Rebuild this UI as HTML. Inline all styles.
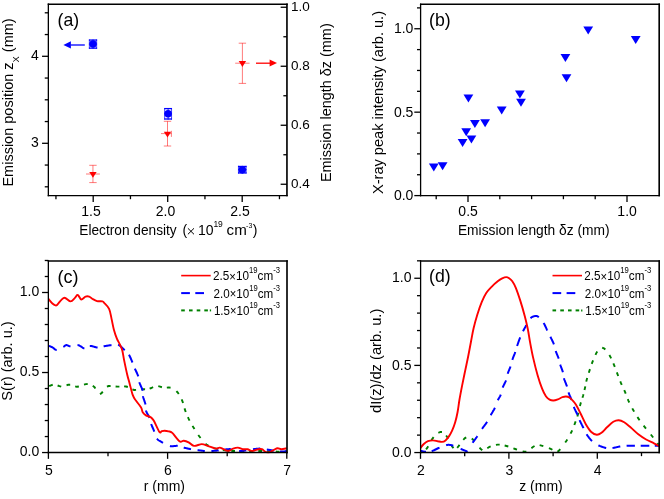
<!DOCTYPE html>
<html><head><meta charset="utf-8"><title>figure</title>
<style>
html,body{margin:0;padding:0;background:#fff;}
body{width:664px;height:499px;overflow:hidden;}
svg{display:block;font-family:"Liberation Sans", sans-serif;will-change:transform;}
</style></head>
<body>
<svg width="664" height="499" viewBox="0 0 664 499">
<rect width="664" height="499" fill="#fff"/>
<line x1="48.35" y1="3.53" x2="48.35" y2="196.32" stroke="#000" stroke-width="1.3" />
<line x1="286.95" y1="3.53" x2="286.95" y2="196.32" stroke="#000" stroke-width="1.65" />
<line x1="47.70" y1="4.20" x2="287.77" y2="4.20" stroke="#000" stroke-width="1.35" />
<line x1="47.70" y1="195.60" x2="287.77" y2="195.60" stroke="#000" stroke-width="1.45" />
<line x1="44.75" y1="12.80" x2="48.35" y2="12.80" stroke="#000" stroke-width="1.3" />
<line x1="44.75" y1="34.55" x2="48.35" y2="34.55" stroke="#000" stroke-width="1.3" />
<line x1="42.05" y1="56.30" x2="48.35" y2="56.30" stroke="#000" stroke-width="1.3" />
<text x="38.85" y="59.80" font-size="14" text-anchor="end" fill="#000" >4</text>
<line x1="44.75" y1="78.05" x2="48.35" y2="78.05" stroke="#000" stroke-width="1.3" />
<line x1="44.75" y1="99.80" x2="48.35" y2="99.80" stroke="#000" stroke-width="1.3" />
<line x1="44.75" y1="121.55" x2="48.35" y2="121.55" stroke="#000" stroke-width="1.3" />
<line x1="42.05" y1="143.30" x2="48.35" y2="143.30" stroke="#000" stroke-width="1.3" />
<text x="38.85" y="146.80" font-size="14" text-anchor="end" fill="#000" >3</text>
<line x1="44.75" y1="165.05" x2="48.35" y2="165.05" stroke="#000" stroke-width="1.3" />
<line x1="44.75" y1="186.80" x2="48.35" y2="186.80" stroke="#000" stroke-width="1.3" />
<line x1="55.95" y1="195.60" x2="55.95" y2="199.20" stroke="#000" stroke-width="1.3" />
<line x1="93.20" y1="195.60" x2="93.20" y2="201.90" stroke="#000" stroke-width="1.3" />
<text x="91.00" y="216.00" font-size="14" text-anchor="middle" fill="#000" >1.5</text>
<line x1="130.45" y1="195.60" x2="130.45" y2="199.20" stroke="#000" stroke-width="1.3" />
<line x1="167.70" y1="195.60" x2="167.70" y2="201.90" stroke="#000" stroke-width="1.3" />
<text x="165.50" y="216.00" font-size="14" text-anchor="middle" fill="#000" >2.0</text>
<line x1="204.95" y1="195.60" x2="204.95" y2="199.20" stroke="#000" stroke-width="1.3" />
<line x1="242.20" y1="195.60" x2="242.20" y2="201.90" stroke="#000" stroke-width="1.3" />
<text x="240.00" y="216.00" font-size="14" text-anchor="middle" fill="#000" >2.5</text>
<line x1="279.45" y1="195.60" x2="279.45" y2="199.20" stroke="#000" stroke-width="1.3" />
<line x1="280.65" y1="7.25" x2="286.95" y2="7.25" stroke="#000" stroke-width="1.3" />
<text x="291.00" y="10.75" font-size="13.5" text-anchor="start" fill="#000" >1.0</text>
<line x1="283.35" y1="36.75" x2="286.95" y2="36.75" stroke="#000" stroke-width="1.3" />
<line x1="280.65" y1="66.25" x2="286.95" y2="66.25" stroke="#000" stroke-width="1.3" />
<text x="291.00" y="69.75" font-size="13.5" text-anchor="start" fill="#000" >0.8</text>
<line x1="283.35" y1="95.75" x2="286.95" y2="95.75" stroke="#000" stroke-width="1.3" />
<line x1="280.65" y1="125.25" x2="286.95" y2="125.25" stroke="#000" stroke-width="1.3" />
<text x="291.00" y="128.75" font-size="13.5" text-anchor="start" fill="#000" >0.6</text>
<line x1="283.35" y1="154.75" x2="286.95" y2="154.75" stroke="#000" stroke-width="1.3" />
<line x1="280.65" y1="184.25" x2="286.95" y2="184.25" stroke="#000" stroke-width="1.3" />
<text x="291.00" y="187.75" font-size="13.5" text-anchor="start" fill="#000" >0.4</text>
<text x="57.60" y="25.80" font-size="18.5" text-anchor="start" fill="#000" textLength="21.60" lengthAdjust="spacingAndGlyphs" >(a)</text>
<line x1="187.90" y1="228.30" x2="194.00" y2="234.30" stroke="#000" stroke-width="1.0" />
<line x1="187.90" y1="234.30" x2="194.00" y2="228.30" stroke="#000" stroke-width="1.0" />
<text x="79.30" y="234.50" font-size="14" text-anchor="start" fill="#000" textLength="97.40" lengthAdjust="spacingAndGlyphs" >Electron density</text>
<text x="182.40" y="234.50" font-size="14" text-anchor="start" fill="#000" >(</text>
<text x="198.00" y="234.50" font-size="14" text-anchor="start" fill="#000" >10</text>
<text x="213.40" y="227.30" font-size="8.5" text-anchor="start" fill="#000" >19</text>
<text x="226.60" y="234.50" font-size="14" text-anchor="start" fill="#000" textLength="20.20" lengthAdjust="spacingAndGlyphs" >cm</text>
<text x="246.10" y="227.70" font-size="8" text-anchor="start" fill="#000" textLength="6.20" lengthAdjust="spacingAndGlyphs" >-3</text>
<text x="252.70" y="234.50" font-size="14" text-anchor="start" fill="#000" >)</text>
<text transform="translate(13.0 186.6) rotate(-90)" font-size="14" fill="#000" textLength="168.3" lengthAdjust="spacingAndGlyphs">Emission position z<tspan font-size="9" dy="6">X</tspan><tspan dy="-6"> (mm)</tspan></text>
<text transform="translate(330.7 182.1) rotate(-90)" font-size="14" fill="#000" textLength="158.8" lengthAdjust="spacingAndGlyphs">Emission length δz (mm)</text>
<line x1="88.90" y1="40.05" x2="97.10" y2="40.05" stroke="#0000ff" stroke-width="1.3" />
<line x1="88.90" y1="48.15" x2="97.10" y2="48.15" stroke="#0000ff" stroke-width="1.3" />
<line x1="89.35" y1="39.45" x2="89.35" y2="48.75" stroke="#0000ff" stroke-width="0.9" stroke-opacity="0.8"/>
<line x1="96.65" y1="39.45" x2="96.65" y2="48.75" stroke="#0000ff" stroke-width="0.9" stroke-opacity="0.8"/>
<line x1="88.90" y1="44.10" x2="97.10" y2="44.10" stroke="#0000ff" stroke-width="0.9" />
<line x1="93.00" y1="39.45" x2="93.00" y2="48.75" stroke="#0000ff" stroke-width="0.9" />
<circle cx="93.0" cy="44.1" r="3.75" fill="#0000ff"/>
<line x1="164.20" y1="108.60" x2="172.00" y2="108.60" stroke="#0000ff" stroke-width="1.3" />
<line x1="164.20" y1="119.00" x2="172.00" y2="119.00" stroke="#0000ff" stroke-width="1.3" />
<line x1="164.65" y1="108.00" x2="164.65" y2="119.60" stroke="#0000ff" stroke-width="0.9" stroke-opacity="0.8"/>
<line x1="171.55" y1="108.00" x2="171.55" y2="119.60" stroke="#0000ff" stroke-width="0.9" stroke-opacity="0.8"/>
<line x1="164.20" y1="113.80" x2="172.00" y2="113.80" stroke="#0000ff" stroke-width="0.9" />
<line x1="168.10" y1="108.00" x2="168.10" y2="119.60" stroke="#0000ff" stroke-width="0.9" />
<circle cx="168.1" cy="113.8" r="3.75" fill="#0000ff"/>
<line x1="238.00" y1="166.45" x2="246.60" y2="166.45" stroke="#0000ff" stroke-width="1.3" />
<line x1="238.00" y1="172.95" x2="246.60" y2="172.95" stroke="#0000ff" stroke-width="1.3" />
<line x1="238.45" y1="165.85" x2="238.45" y2="173.55" stroke="#0000ff" stroke-width="0.9" stroke-opacity="0.8"/>
<line x1="246.15" y1="165.85" x2="246.15" y2="173.55" stroke="#0000ff" stroke-width="0.9" stroke-opacity="0.8"/>
<line x1="238.00" y1="169.70" x2="246.60" y2="169.70" stroke="#0000ff" stroke-width="0.9" />
<line x1="242.30" y1="165.85" x2="242.30" y2="173.55" stroke="#0000ff" stroke-width="0.9" />
<circle cx="242.3" cy="169.7" r="3.75" fill="#0000ff"/>
<line x1="92.95" y1="165.30" x2="92.95" y2="182.60" stroke="#ff0000" stroke-width="0.85" stroke-opacity="0.62"/>
<line x1="89.25" y1="165.30" x2="96.65" y2="165.30" stroke="#ff0000" stroke-width="0.85" stroke-opacity="0.62"/>
<line x1="89.25" y1="182.60" x2="96.65" y2="182.60" stroke="#ff0000" stroke-width="0.85" stroke-opacity="0.62"/>
<line x1="86.00" y1="174.00" x2="99.90" y2="174.00" stroke="#ff0000" stroke-width="0.85" stroke-opacity="0.62"/>
<polygon points="89.25,171.90 96.65,171.90 92.95,177.80" fill="#ff0000"/>
<line x1="167.50" y1="121.30" x2="167.50" y2="146.00" stroke="#ff0000" stroke-width="0.85" stroke-opacity="0.62"/>
<line x1="163.80" y1="121.30" x2="171.20" y2="121.30" stroke="#ff0000" stroke-width="0.85" stroke-opacity="0.62"/>
<line x1="163.80" y1="146.00" x2="171.20" y2="146.00" stroke="#ff0000" stroke-width="0.85" stroke-opacity="0.62"/>
<line x1="161.00" y1="133.60" x2="171.40" y2="133.60" stroke="#ff0000" stroke-width="0.85" stroke-opacity="0.62"/>
<line x1="171.40" y1="130.80" x2="171.40" y2="136.90" stroke="#ff0000" stroke-width="0.85" stroke-opacity="0.62"/>
<polygon points="163.80,131.80 171.20,131.80 167.50,137.60" fill="#ff0000"/>
<line x1="242.40" y1="43.20" x2="242.40" y2="83.40" stroke="#ff0000" stroke-width="0.85" stroke-opacity="0.62"/>
<line x1="238.70" y1="43.20" x2="246.10" y2="43.20" stroke="#ff0000" stroke-width="0.85" stroke-opacity="0.62"/>
<line x1="238.70" y1="83.40" x2="246.10" y2="83.40" stroke="#ff0000" stroke-width="0.85" stroke-opacity="0.62"/>
<line x1="235.20" y1="63.20" x2="249.60" y2="63.20" stroke="#ff0000" stroke-width="0.85" stroke-opacity="0.62"/>
<polygon points="238.70,61.10 246.10,61.10 242.40,67.10" fill="#ff0000"/>
<line x1="70.50" y1="45.00" x2="84.80" y2="45.00" stroke="#0000ff" stroke-width="1.3" />
<polygon points="63.4,45.0 70.9,41.3 70.9,48.6" fill="#0000ff"/>
<line x1="256.00" y1="63.20" x2="270.00" y2="63.20" stroke="#ff0000" stroke-width="1.3" />
<polygon points="277,63.1 269.6,59.5 269.6,66.6" fill="#ff0000"/>
<line x1="420.60" y1="3.53" x2="420.60" y2="196.32" stroke="#000" stroke-width="1.3" />
<line x1="659.20" y1="3.53" x2="659.20" y2="196.32" stroke="#000" stroke-width="1.65" />
<line x1="419.95" y1="4.20" x2="660.03" y2="4.20" stroke="#000" stroke-width="1.35" />
<line x1="419.95" y1="195.60" x2="660.03" y2="195.60" stroke="#000" stroke-width="1.45" />
<line x1="414.30" y1="195.60" x2="420.60" y2="195.60" stroke="#000" stroke-width="1.3" />
<text x="413.40" y="200.20" font-size="14" text-anchor="end" fill="#000" >0.0</text>
<line x1="417.00" y1="174.74" x2="420.60" y2="174.74" stroke="#000" stroke-width="1.3" />
<line x1="417.00" y1="153.89" x2="420.60" y2="153.89" stroke="#000" stroke-width="1.3" />
<line x1="417.00" y1="133.03" x2="420.60" y2="133.03" stroke="#000" stroke-width="1.3" />
<line x1="414.30" y1="112.17" x2="420.60" y2="112.17" stroke="#000" stroke-width="1.3" />
<text x="413.40" y="116.77" font-size="14" text-anchor="end" fill="#000" >0.5</text>
<line x1="417.00" y1="91.32" x2="420.60" y2="91.32" stroke="#000" stroke-width="1.3" />
<line x1="417.00" y1="70.46" x2="420.60" y2="70.46" stroke="#000" stroke-width="1.3" />
<line x1="417.00" y1="49.61" x2="420.60" y2="49.61" stroke="#000" stroke-width="1.3" />
<line x1="414.30" y1="28.75" x2="420.60" y2="28.75" stroke="#000" stroke-width="1.3" />
<text x="413.40" y="33.35" font-size="14" text-anchor="end" fill="#000" >1.0</text>
<line x1="417.00" y1="7.89" x2="420.60" y2="7.89" stroke="#000" stroke-width="1.3" />
<line x1="436.20" y1="195.60" x2="436.20" y2="199.20" stroke="#000" stroke-width="1.3" />
<line x1="468.00" y1="195.60" x2="468.00" y2="201.90" stroke="#000" stroke-width="1.3" />
<text x="468.10" y="216.00" font-size="14" text-anchor="middle" fill="#000" >0.5</text>
<line x1="499.80" y1="195.60" x2="499.80" y2="199.20" stroke="#000" stroke-width="1.3" />
<line x1="531.60" y1="195.60" x2="531.60" y2="199.20" stroke="#000" stroke-width="1.3" />
<line x1="563.40" y1="195.60" x2="563.40" y2="199.20" stroke="#000" stroke-width="1.3" />
<line x1="595.20" y1="195.60" x2="595.20" y2="199.20" stroke="#000" stroke-width="1.3" />
<line x1="627.00" y1="195.60" x2="627.00" y2="201.90" stroke="#000" stroke-width="1.3" />
<text x="627.10" y="216.00" font-size="14" text-anchor="middle" fill="#000" >1.0</text>
<text x="429.00" y="25.90" font-size="18.5" text-anchor="start" fill="#000" textLength="21.60" lengthAdjust="spacingAndGlyphs" >(b)</text>
<text transform="translate(383.0 194.0) rotate(-90)" font-size="14" fill="#000" textLength="183" lengthAdjust="spacingAndGlyphs">X-ray peak intensity (arb. u.)</text>
<text x="457.90" y="234.60" font-size="14" text-anchor="start" fill="#000" textLength="151.80" lengthAdjust="spacingAndGlyphs" >Emission length δz (mm)</text>
<polygon points="583.30,26.50 593.10,26.50 588.20,34.50" fill="#0000ff"/>
<polygon points="630.80,35.90 640.60,35.90 635.70,43.90" fill="#0000ff"/>
<polygon points="560.50,54.00 570.30,54.00 565.40,62.00" fill="#0000ff"/>
<polygon points="561.60,74.30 571.40,74.30 566.50,82.30" fill="#0000ff"/>
<polygon points="463.50,94.60 473.30,94.60 468.40,102.60" fill="#0000ff"/>
<polygon points="515.00,90.60 524.80,90.60 519.90,98.60" fill="#0000ff"/>
<polygon points="516.10,98.70 525.90,98.70 521.00,106.70" fill="#0000ff"/>
<polygon points="496.80,106.50 506.60,106.50 501.70,114.50" fill="#0000ff"/>
<polygon points="480.20,119.20 490.00,119.20 485.10,127.20" fill="#0000ff"/>
<polygon points="470.00,120.10 479.80,120.10 474.90,128.10" fill="#0000ff"/>
<polygon points="461.30,128.20 471.10,128.20 466.20,136.20" fill="#0000ff"/>
<polygon points="466.50,135.50 476.30,135.50 471.40,143.50" fill="#0000ff"/>
<polygon points="457.70,139.00 467.50,139.00 462.60,147.00" fill="#0000ff"/>
<polygon points="437.70,162.20 447.50,162.20 442.60,170.20" fill="#0000ff"/>
<polygon points="428.90,163.50 438.70,163.50 433.80,171.50" fill="#0000ff"/>
<clipPath id="clipc"><rect x="48.35" y="261.0" width="238.65" height="192.55"/></clipPath>
<path d="M49.19,386.12 L50.90,385.30 L52.73,384.79 M57.63,385.51 L59.40,386.20 L61.24,386.69 M66.54,385.40 L68.30,384.70 L70.19,384.68 M75.18,386.30 L77.00,386.80 L78.87,386.52 M83.98,384.62 L85.80,384.10 L87.70,384.04 M92.79,385.75 L94.30,386.90 L95.39,388.45 M99.98,394.12 L101.60,393.20 L102.76,391.70 M106.93,386.65 L108.70,386.00 L110.60,385.94 M115.61,386.47 L117.50,386.60 L119.40,386.59 M124.10,386.40 L126.00,386.50 L127.83,387.00 M132.41,389.38 L134.20,390.00 L136.09,389.85 M141.30,389.24 L143.20,389.20 L145.10,389.30 M149.64,388.70 L151.40,388.00 L153.11,387.17 M158.27,386.20 L160.10,386.70 L161.92,387.25 M166.82,387.59 L168.70,387.40 L170.56,387.76 M176.43,391.09 L177.70,392.50 L178.77,394.07 M181.63,399.46 L182.40,401.20 L183.05,402.98 M184.53,408.39 L185.10,410.20 L185.75,411.98 M187.89,417.18 L188.70,418.90 L189.55,420.60 M192.52,425.87 L193.50,427.50 L194.49,429.12 M198.27,434.97 L199.40,436.50 L200.55,438.01 M205.44,443.69 L206.90,444.90 L208.51,445.91 M214.18,448.06 L216.00,448.60 L217.83,449.12 M222.82,450.12 L224.70,450.40 L226.59,450.62 M231.20,450.92 L233.10,451.00 L235.00,451.07 M240.20,451.18 L242.10,451.20 L244.00,451.22 M249.20,451.22 L251.10,451.20 L253.00,451.16 M258.30,451.01 L260.20,451.00 L262.10,451.03 M267.10,451.23 L269.00,451.30 L270.90,451.37 M275.80,451.57 L277.70,451.60 L279.60,451.59 M284.80,451.46 L286.70,451.40 L286.70,451.40" fill="none" stroke="#008000" stroke-width="1.9" stroke-linejoin="round" clip-path="url(#clipc)"/>
<path d="M48.40,345.70 L48.54,345.76 L48.72,345.83 L48.91,345.90 L49.13,345.99 L49.38,346.08 L49.63,346.18 L49.90,346.28 L50.19,346.39 L50.48,346.51 L50.77,346.63 L51.07,346.75 L51.37,346.88 L51.67,347.01 L51.95,347.14 L52.23,347.27 L52.50,347.40 L52.76,347.54 L53.00,347.71 L53.25,347.90 L53.49,348.10 L53.72,348.31 L53.96,348.52 L54.20,348.73 L54.44,348.94 L54.69,349.14 L54.94,349.33 L55.21,349.50 L55.48,349.64 L55.76,349.76 L56.06,349.85 L56.37,349.89 L56.70,349.90 M63.30,346.90 L63.58,346.75 L63.84,346.60 L64.07,346.45 L64.27,346.30 L64.46,346.15 L64.64,346.01 L64.80,345.87 L64.95,345.74 L65.10,345.62 L65.25,345.50 L65.39,345.40 L65.55,345.31 L65.71,345.23 L65.89,345.17 L66.09,345.13 L66.30,345.10 L66.52,345.10 L66.75,345.12 L66.97,345.17 L67.20,345.25 L67.43,345.33 L67.66,345.44 L67.90,345.55 L68.15,345.66 L68.40,345.78 L68.67,345.89 L68.94,346.00 L69.22,346.10 L69.52,346.18 L69.83,346.24 L70.16,346.29 L70.50,346.30 M77.50,345.10 L77.82,345.12 L78.11,345.15 L78.37,345.20 L78.62,345.26 L78.86,345.33 L79.07,345.42 L79.28,345.51 L79.48,345.61 L79.66,345.72 L79.85,345.83 L80.03,345.95 L80.21,346.06 L80.40,346.18 L80.59,346.29 L80.79,346.40 L81.00,346.50 L81.21,346.61 L81.42,346.73 L81.62,346.87 L81.81,347.02 L82.00,347.17 L82.19,347.33 L82.39,347.49 L82.58,347.64 L82.78,347.78 L82.98,347.92 L83.19,348.03 L83.41,348.14 L83.64,348.22 L83.88,348.27 L84.13,348.30 L84.40,348.30 M89.80,345.90 L90.22,345.90 L90.67,345.93 L91.14,345.99 L91.62,346.08 L92.12,346.20 L92.63,346.33 L93.14,346.47 L93.66,346.62 L94.18,346.78 L94.70,346.93 L95.21,347.07 L95.72,347.20 L96.21,347.32 L96.69,347.41 L97.16,347.47 L97.60,347.50 M103.60,346.30 L104.04,346.22 L104.51,346.14 L104.98,346.06 L105.47,345.98 L105.97,345.90 L106.48,345.81 L106.99,345.73 L107.51,345.65 L108.03,345.57 L108.55,345.49 L109.06,345.42 L109.57,345.34 L110.07,345.28 L110.56,345.21 L111.04,345.15 L111.50,345.10 M118.10,344.70 L118.52,344.88 L118.94,345.11 L119.37,345.38 L119.81,345.68 L120.24,346.02 L120.68,346.37 L121.12,346.75 L121.55,347.14 L121.98,347.55 L122.40,347.95 L122.81,348.36 L123.22,348.76 L123.61,349.15 L123.99,349.52 L124.35,349.87 L124.70,350.20 M128.90,354.70 L129.14,355.10 L129.39,355.53 L129.63,355.98 L129.87,356.46 L130.11,356.95 L130.35,357.46 L130.58,357.98 L130.81,358.50 L131.04,359.03 L131.26,359.55 L131.48,360.08 L131.70,360.59 L131.91,361.10 L132.11,361.58 L132.31,362.05 L132.50,362.50 M134.90,368.60 L135.09,369.04 L135.29,369.51 L135.51,369.99 L135.74,370.48 L135.97,370.98 L136.21,371.49 L136.45,372.00 L136.69,372.52 L136.92,373.03 L137.16,373.55 L137.38,374.05 L137.60,374.55 L137.80,375.04 L137.98,375.51 L138.15,375.96 L138.30,376.40 M139.30,382.20 L139.45,382.66 L139.63,383.15 L139.83,383.67 L140.06,384.21 L140.29,384.76 L140.54,385.33 L140.79,385.90 L141.05,386.47 L141.30,387.05 L141.55,387.62 L141.79,388.18 L142.02,388.73 L142.23,389.26 L142.41,389.77 L142.57,390.25 L142.70,390.70 M142.90,396.10 L143.00,396.55 L143.13,397.02 L143.27,397.52 L143.43,398.05 L143.61,398.58 L143.80,399.14 L143.99,399.70 L144.19,400.26 L144.39,400.83 L144.58,401.39 L144.77,401.95 L144.95,402.50 L145.11,403.03 L145.26,403.54 L145.39,404.04 L145.50,404.50 M145.90,410.50 L146.04,410.92 L146.21,411.36 L146.40,411.80 L146.62,412.26 L146.85,412.72 L147.10,413.19 L147.36,413.66 L147.62,414.14 L147.88,414.61 L148.15,415.09 L148.41,415.56 L148.66,416.02 L148.90,416.48 L149.12,416.93 L149.32,417.37 L149.50,417.80 M151.20,424.00 L151.36,424.44 L151.52,424.89 L151.70,425.35 L151.89,425.81 L152.08,426.29 L152.28,426.77 L152.48,427.26 L152.69,427.74 L152.90,428.23 L153.11,428.73 L153.31,429.21 L153.52,429.70 L153.72,430.19 L153.92,430.66 L154.11,431.14 L154.30,431.60 M157.00,438.70 L157.28,439.04 L157.59,439.36 L157.91,439.67 L158.25,439.95 L158.60,440.23 L158.97,440.49 L159.35,440.74 L159.74,440.99 L160.14,441.22 L160.54,441.45 L160.95,441.68 L161.36,441.90 L161.77,442.12 L162.18,442.35 L162.59,442.57 L163.00,442.80 M169.90,446.10 L170.37,446.18 L170.84,446.23 L171.33,446.25 L171.83,446.25 L172.33,446.23 L172.84,446.20 L173.35,446.15 L173.86,446.10 L174.36,446.04 L174.87,445.99 L175.37,445.94 L175.86,445.90 L176.34,445.87 L176.80,445.86 L177.26,445.87 L177.70,445.90 M183.70,447.60 L184.12,447.70 L184.56,447.81 L185.00,447.92 L185.45,448.02 L185.91,448.13 L186.37,448.24 L186.84,448.34 L187.31,448.45 L187.78,448.55 L188.26,448.66 L188.73,448.76 L189.19,448.85 L189.66,448.94 L190.11,449.03 L190.56,449.12 L191.00,449.20 M197.60,450.10 L198.03,450.16 L198.48,450.22 L198.92,450.28 L199.37,450.35 L199.83,450.41 L200.28,450.48 L200.74,450.54 L201.20,450.61 L201.66,450.67 L202.12,450.73 L202.57,450.79 L203.03,450.84 L203.48,450.89 L203.92,450.93 L204.37,450.97 L204.80,451.00 M211.40,451.00 L211.84,450.98 L212.29,450.96 L212.75,450.93 L213.21,450.90 L213.68,450.87 L214.15,450.83 L214.62,450.80 L215.09,450.76 L215.57,450.72 L216.03,450.67 L216.50,450.63 L216.96,450.59 L217.41,450.54 L217.85,450.49 L218.28,450.45 L218.70,450.40 M224.60,449.50 L224.99,449.46 L225.39,449.42 L225.79,449.38 L226.19,449.33 L226.60,449.29 L227.01,449.25 L227.42,449.21 L227.83,449.18 L228.25,449.15 L228.67,449.13 L229.10,449.12 L229.53,449.11 L229.96,449.12 L230.40,449.13 L230.85,449.16 L231.30,449.20 M239.10,451.00 L239.57,451.03 L240.03,451.04 L240.49,451.04 L240.95,451.03 L241.41,451.01 L241.87,450.98 L242.32,450.94 L242.77,450.89 L243.22,450.83 L243.66,450.77 L244.11,450.71 L244.55,450.65 L244.99,450.58 L245.43,450.52 L245.86,450.46 L246.30,450.40 M253.00,449.20 L253.44,449.14 L253.88,449.09 L254.33,449.03 L254.78,448.97 L255.23,448.92 L255.69,448.87 L256.15,448.82 L256.61,448.77 L257.06,448.73 L257.52,448.69 L257.98,448.66 L258.43,448.63 L258.88,448.61 L259.33,448.60 L259.77,448.60 L260.20,448.60 M266.80,449.50 L267.24,449.57 L267.68,449.64 L268.13,449.71 L268.59,449.79 L269.05,449.86 L269.51,449.94 L269.97,450.02 L270.44,450.10 L270.90,450.18 L271.36,450.26 L271.82,450.34 L272.27,450.41 L272.72,450.49 L273.15,450.56 L273.58,450.63 L274.00,450.70 M280.00,451.60 L280.42,451.61 L280.86,451.61 L281.32,451.60 L281.80,451.58 L282.29,451.56 L282.79,451.53 L283.29,451.49 L283.77,451.46 L284.25,451.42 L284.71,451.38 L285.15,451.34 L285.56,451.30 L285.93,451.27 L286.27,451.24 L286.56,451.22 L286.80,451.20" fill="none" stroke="#0000ff" stroke-width="2.0" stroke-linejoin="round" clip-path="url(#clipc)"/>
<path d="M48.40,298.90 C49.07,299.67 51.23,302.43 52.40,303.50 C53.57,304.57 54.58,305.10 55.40,305.30 C56.22,305.50 55.88,305.95 57.30,304.70 C58.72,303.45 61.70,298.35 63.90,297.80 C66.10,297.25 68.70,301.35 70.50,301.40 C72.30,301.45 73.60,299.15 74.70,298.10 C75.80,297.05 76.50,295.55 77.10,295.10 C77.70,294.65 77.60,294.67 78.30,295.40 C79.00,296.13 80.08,299.30 81.30,299.50 C82.52,299.70 84.28,297.08 85.60,296.60 C86.92,296.12 88.10,296.25 89.20,296.60 C90.30,296.95 90.90,297.95 92.20,298.70 C93.50,299.45 95.30,300.65 97.00,301.10 C98.70,301.55 101.20,301.10 102.40,301.40 C103.60,301.70 103.08,301.65 104.20,302.90 C105.32,304.15 107.88,306.28 109.10,308.90 C110.32,311.52 110.70,315.13 111.50,318.60 C112.30,322.07 113.00,326.37 113.90,329.70 C114.80,333.03 115.90,336.13 116.90,338.60 C117.90,341.07 119.00,342.52 119.90,344.50 C120.80,346.48 121.60,347.90 122.30,350.50 C123.00,353.10 123.27,356.02 124.10,360.10 C124.93,364.18 126.38,371.12 127.30,375.00 C128.22,378.88 128.70,380.08 129.60,383.40 C130.50,386.72 131.68,392.08 132.70,394.90 C133.72,397.72 134.30,398.20 135.70,400.30 C137.10,402.40 139.93,405.50 141.10,407.50 C142.27,409.50 141.90,410.98 142.70,412.30 C143.50,413.62 144.57,414.58 145.90,415.40 C147.23,416.22 149.40,416.33 150.70,417.20 C152.00,418.07 152.25,418.13 153.70,420.60 C155.15,423.07 158.08,430.23 159.40,432.00 C160.72,433.77 160.75,431.42 161.60,431.20 C162.45,430.98 163.35,430.68 164.50,430.70 C165.65,430.72 167.20,430.93 168.50,431.30 C169.80,431.67 170.47,431.23 172.30,432.90 C174.13,434.57 177.60,440.00 179.50,441.30 C181.40,442.60 182.18,440.53 183.70,440.70 C185.22,440.87 186.88,441.43 188.60,442.30 C190.32,443.17 191.80,445.60 194.00,445.90 C196.20,446.20 199.50,444.10 201.80,444.10 C204.10,444.10 205.48,445.15 207.80,445.90 C210.12,446.65 213.73,448.32 215.70,448.60 C217.67,448.88 218.22,447.47 219.60,447.60 C220.98,447.73 222.55,448.83 224.00,449.40 C225.45,449.97 226.78,451.13 228.30,451.00 C229.82,450.87 231.50,449.17 233.10,448.60 C234.70,448.03 236.30,447.50 237.90,447.60 C239.50,447.70 241.10,448.93 242.70,449.20 C244.30,449.47 245.90,448.90 247.50,449.20 C249.10,449.50 250.48,451.00 252.30,451.00 C254.12,451.00 256.78,449.50 258.40,449.20 C260.02,448.90 260.80,448.75 262.00,449.20 C263.20,449.65 264.40,451.37 265.60,451.90 C266.80,452.43 267.80,452.75 269.20,452.40 C270.60,452.05 272.60,450.48 274.00,449.80 C275.40,449.12 276.38,448.40 277.60,448.30 C278.82,448.20 279.77,449.20 281.30,449.20 C282.83,449.20 285.88,448.45 286.80,448.30" fill="none" stroke="#ff0000" stroke-width="1.9" stroke-linejoin="round" clip-path="url(#clipc)"/>
<line x1="48.35" y1="260.32" x2="48.35" y2="453.28" stroke="#000" stroke-width="1.3" />
<line x1="287.00" y1="260.32" x2="287.00" y2="453.28" stroke="#000" stroke-width="1.65" />
<line x1="47.70" y1="261.00" x2="287.82" y2="261.00" stroke="#000" stroke-width="1.35" />
<line x1="47.70" y1="452.55" x2="287.82" y2="452.55" stroke="#000" stroke-width="1.45" />
<line x1="42.05" y1="452.55" x2="48.35" y2="452.55" stroke="#000" stroke-width="1.3" />
<text x="39.30" y="456.25" font-size="14" text-anchor="end" fill="#000" >0.0</text>
<line x1="44.75" y1="436.55" x2="48.35" y2="436.55" stroke="#000" stroke-width="1.3" />
<line x1="44.75" y1="420.54" x2="48.35" y2="420.54" stroke="#000" stroke-width="1.3" />
<line x1="44.75" y1="404.54" x2="48.35" y2="404.54" stroke="#000" stroke-width="1.3" />
<line x1="44.75" y1="388.53" x2="48.35" y2="388.53" stroke="#000" stroke-width="1.3" />
<line x1="42.05" y1="372.52" x2="48.35" y2="372.52" stroke="#000" stroke-width="1.3" />
<text x="39.30" y="376.22" font-size="14" text-anchor="end" fill="#000" >0.5</text>
<line x1="44.75" y1="356.52" x2="48.35" y2="356.52" stroke="#000" stroke-width="1.3" />
<line x1="44.75" y1="340.51" x2="48.35" y2="340.51" stroke="#000" stroke-width="1.3" />
<line x1="44.75" y1="324.51" x2="48.35" y2="324.51" stroke="#000" stroke-width="1.3" />
<line x1="44.75" y1="308.50" x2="48.35" y2="308.50" stroke="#000" stroke-width="1.3" />
<line x1="42.05" y1="292.50" x2="48.35" y2="292.50" stroke="#000" stroke-width="1.3" />
<text x="39.30" y="296.20" font-size="14" text-anchor="end" fill="#000" >1.0</text>
<line x1="44.75" y1="276.50" x2="48.35" y2="276.50" stroke="#000" stroke-width="1.3" />
<line x1="44.75" y1="260.49" x2="48.35" y2="260.49" stroke="#000" stroke-width="1.3" />
<line x1="48.40" y1="452.55" x2="48.40" y2="458.85" stroke="#000" stroke-width="1.3" />
<text x="48.80" y="475.00" font-size="14" text-anchor="middle" fill="#000" >5</text>
<line x1="108.00" y1="452.55" x2="108.00" y2="456.15" stroke="#000" stroke-width="1.3" />
<line x1="167.60" y1="452.55" x2="167.60" y2="458.85" stroke="#000" stroke-width="1.3" />
<text x="168.00" y="475.00" font-size="14" text-anchor="middle" fill="#000" >6</text>
<line x1="227.20" y1="452.55" x2="227.20" y2="456.15" stroke="#000" stroke-width="1.3" />
<line x1="286.80" y1="452.55" x2="286.80" y2="458.85" stroke="#000" stroke-width="1.3" />
<text x="287.20" y="475.00" font-size="14" text-anchor="middle" fill="#000" >7</text>
<text x="57.60" y="282.60" font-size="18.5" text-anchor="start" fill="#000" textLength="21.00" lengthAdjust="spacingAndGlyphs" >(c)</text>
<text transform="translate(12.4 400.7) rotate(-90)" font-size="14" fill="#000" textLength="79.4" lengthAdjust="spacingAndGlyphs">S(r) (arb. u.)</text>
<text x="143.80" y="490.50" font-size="14" text-anchor="start" fill="#000" >r (mm)</text>
<line x1="181.20" y1="275.60" x2="210.70" y2="275.60" stroke="#ff0000" stroke-width="1.6" />
<line x1="181.20" y1="293.10" x2="189.90" y2="293.10" stroke="#0000ff" stroke-width="2.0" />
<line x1="195.30" y1="293.10" x2="204.00" y2="293.10" stroke="#0000ff" stroke-width="2.0" />
<line x1="181.20" y1="310.40" x2="184.80" y2="310.40" stroke="#008000" stroke-width="2.0" />
<line x1="188.97" y1="310.40" x2="192.60" y2="310.40" stroke="#008000" stroke-width="2.0" />
<line x1="196.70" y1="310.40" x2="200.30" y2="310.40" stroke="#008000" stroke-width="2.0" />
<line x1="204.30" y1="310.40" x2="207.90" y2="310.40" stroke="#008000" stroke-width="2.0" />
<line x1="209.80" y1="310.40" x2="211.10" y2="310.40" stroke="#008000" stroke-width="2.0" />
<text x="213.00" y="280.2" font-size="13" fill="#000" textLength="67.00" lengthAdjust="spacingAndGlyphs">2.5<tspan font-size="12.5" dy="0.5">×</tspan><tspan dy="-0.5">10</tspan><tspan font-size="8.5" dy="-6.8">19</tspan><tspan dy="6.8">cm</tspan><tspan font-size="8.5" dy="-6.8">-3</tspan></text>
<text x="213.50" y="297.7" font-size="13" fill="#000" textLength="66.50" lengthAdjust="spacingAndGlyphs">2.0<tspan font-size="12.5" dy="0.5">×</tspan><tspan dy="-0.5">10</tspan><tspan font-size="8.5" dy="-6.8">19</tspan><tspan dy="6.8">cm</tspan><tspan font-size="8.5" dy="-6.8">-3</tspan></text>
<text x="213.90" y="314.8" font-size="13" fill="#000" textLength="66.10" lengthAdjust="spacingAndGlyphs">1.5<tspan font-size="12.5" dy="0.5">×</tspan><tspan dy="-0.5">10</tspan><tspan font-size="8.5" dy="-6.8">19</tspan><tspan dy="6.8">cm</tspan><tspan font-size="8.5" dy="-6.8">-3</tspan></text>
<clipPath id="clipd"><rect x="420.6" y="261.0" width="238.60000000000002" height="192.55"/></clipPath>
<path d="M420.30,452.40 L420.30,452.40 L422.19,452.28 M426.07,449.43 L427.20,447.90 L428.19,446.28 M431.51,440.22 L432.50,438.60 L433.63,437.07 M438.37,432.76 L440.10,432.00 L441.98,432.05 M446.13,435.43 L447.20,437.00 L448.13,438.65 M451.34,445.06 L452.30,446.70 L453.48,448.19 M457.17,447.85 L458.40,446.40 L459.56,444.90 M463.30,439.79 L464.60,438.40 L466.22,437.42 M471.78,438.54 L473.20,439.80 L474.47,441.21 M479.52,447.60 L480.80,449.00 L482.27,450.20 M487.29,448.20 L488.90,447.20 L490.66,446.48 M495.92,444.86 L497.80,444.60 L499.70,444.61 M504.66,445.53 L506.50,446.00 L508.32,446.53 M513.40,448.38 L515.20,449.00 L517.00,449.60 M522.64,451.41 L524.50,451.80 L526.39,451.74 M531.41,448.18 L532.90,447.00 L534.54,446.05 M539.65,445.17 L541.50,445.60 L543.32,446.16 M548.94,448.19 L550.70,448.90 L552.40,449.75 M557.46,451.69 L559.00,450.60 L560.28,449.20 M565.23,442.57 L566.30,441.00 L567.33,439.40 M570.55,433.70 L571.40,432.00 L572.20,430.28 M574.33,424.98 L575.00,423.20 L575.67,421.42 M577.36,416.52 L577.90,414.70 L578.38,412.86 M579.93,406.04 L580.40,404.20 L580.93,402.38 M582.45,397.82 L583.00,396.00 L583.49,394.17 M584.48,390.05 L584.90,388.20 L585.30,386.34 M586.26,381.65 L586.70,379.80 L587.20,377.97 M588.82,372.71 L589.40,370.90 L589.98,369.09 M591.73,363.88 L592.40,362.10 L593.10,360.33 M595.47,354.81 L596.30,353.10 L597.25,351.45 M602.17,347.57 L603.90,348.30 L605.35,349.52 M609.38,355.04 L610.30,356.70 L611.15,358.40 M613.37,363.35 L614.10,365.10 L614.80,366.87 M616.84,372.42 L617.50,374.20 L618.17,375.98 M620.27,381.44 L621.00,383.20 L621.77,384.94 M624.23,390.06 L625.00,391.80 L625.71,393.56 M627.76,399.05 L628.50,400.80 L629.30,402.52 M632.28,408.34 L633.20,410.00 L634.14,411.65 M637.45,417.02 L638.50,418.60 L639.58,420.17 M643.64,425.69 L644.80,427.20 L645.98,428.69 M650.81,434.52 L652.00,436.00 L653.17,437.50 M657.36,443.08 L658.50,444.60 L658.50,444.60" fill="none" stroke="#008000" stroke-width="1.9" stroke-linejoin="round" clip-path="url(#clipd)"/>
<path d="M420.30,450.80 L420.50,450.84 L420.74,450.89 L421.02,450.95 L421.32,451.02 L421.66,451.09 L422.02,451.17 L422.40,451.25 L422.79,451.34 L423.20,451.42 L423.61,451.50 L424.03,451.57 L424.44,451.64 L424.85,451.70 L425.25,451.74 L425.63,451.78 L426.00,451.80 M431.70,451.20 L432.13,451.06 L432.58,450.89 L433.05,450.69 L433.53,450.48 L434.02,450.26 L434.52,450.02 L435.03,449.77 L435.54,449.51 L436.06,449.25 L436.57,448.99 L437.08,448.74 L437.59,448.49 L438.08,448.24 L438.57,448.01 L439.04,447.80 L439.50,447.60 M446.10,445.20 L446.41,445.12 L446.69,445.05 L446.96,445.00 L447.21,444.95 L447.45,444.91 L447.67,444.88 L447.88,444.86 L448.09,444.84 L448.29,444.84 L448.48,444.83 L448.68,444.83 L448.87,444.84 L449.07,444.85 L449.27,444.87 L449.48,444.88 L449.70,444.90 L449.92,444.92 L450.12,444.94 L450.32,444.96 L450.51,444.99 L450.70,445.02 L450.89,445.06 L451.08,445.10 L451.27,445.14 L451.47,445.20 L451.68,445.26 L451.90,445.32 L452.14,445.40 L452.40,445.48 L452.67,445.58 L452.97,445.68 L453.30,445.80 M460.60,448.80 L460.96,448.95 L461.30,449.09 L461.63,449.24 L461.95,449.38 L462.26,449.51 L462.55,449.64 L462.83,449.77 L463.11,449.89 L463.37,450.00 L463.62,450.11 L463.87,450.21 L464.11,450.30 L464.34,450.39 L464.57,450.47 L464.79,450.54 L465.00,450.60 L465.20,450.66 L465.38,450.74 L465.53,450.82 L465.68,450.91 L465.80,450.99 L465.92,451.07 L466.04,451.14 L466.15,451.20 L466.26,451.24 L466.38,451.25 L466.51,451.24 L466.65,451.19 L466.81,451.11 L466.98,450.99 L467.18,450.82 L467.40,450.60 M472.60,442.80 L472.91,442.35 L473.22,441.91 L473.53,441.48 L473.83,441.06 L474.14,440.64 L474.44,440.23 L474.74,439.82 L475.04,439.41 L475.34,439.01 L475.63,438.60 L475.93,438.19 L476.22,437.78 L476.52,437.37 L476.81,436.95 L477.11,436.53 L477.40,436.10 M482.00,428.90 L482.31,428.46 L482.62,428.01 L482.95,427.57 L483.27,427.13 L483.61,426.69 L483.94,426.25 L484.28,425.81 L484.61,425.37 L484.95,424.93 L485.28,424.49 L485.60,424.06 L485.92,423.62 L486.23,423.19 L486.53,422.76 L486.82,422.33 L487.10,421.90 M490.70,415.20 L490.95,414.76 L491.21,414.31 L491.47,413.86 L491.74,413.40 L492.01,412.94 L492.29,412.48 L492.57,412.02 L492.84,411.55 L493.12,411.08 L493.39,410.61 L493.66,410.14 L493.93,409.67 L494.18,409.20 L494.43,408.73 L494.67,408.27 L494.90,407.80 M497.80,400.30 L497.99,399.90 L498.18,399.51 L498.37,399.14 L498.57,398.78 L498.77,398.43 L498.97,398.09 L499.16,397.75 L499.36,397.42 L499.56,397.09 L499.75,396.75 L499.94,396.42 L500.13,396.07 L500.30,395.72 L500.48,395.36 L500.64,394.99 L500.80,394.60 M502.70,387.60 L502.87,387.15 L503.06,386.71 L503.25,386.26 L503.46,385.80 L503.68,385.35 L503.91,384.89 L504.13,384.44 L504.36,383.98 L504.59,383.53 L504.82,383.07 L505.04,382.62 L505.25,382.17 L505.46,381.72 L505.65,381.28 L505.84,380.84 L506.00,380.40 M507.70,373.70 L507.85,373.26 L508.00,372.82 L508.17,372.37 L508.35,371.92 L508.53,371.47 L508.71,371.01 L508.90,370.55 L509.09,370.09 L509.28,369.64 L509.47,369.18 L509.66,368.72 L509.84,368.27 L510.02,367.82 L510.19,367.37 L510.35,366.93 L510.50,366.50 M512.30,359.90 L512.46,359.44 L512.63,358.96 L512.81,358.47 L512.99,357.97 L513.19,357.46 L513.39,356.95 L513.59,356.43 L513.80,355.91 L514.01,355.39 L514.21,354.88 L514.41,354.37 L514.61,353.87 L514.79,353.38 L514.97,352.91 L515.14,352.44 L515.30,352.00 M517.10,346.00 L517.26,345.53 L517.43,345.02 L517.61,344.50 L517.79,343.95 L517.98,343.39 L518.18,342.82 L518.38,342.24 L518.59,341.65 L518.79,341.06 L519.00,340.48 L519.21,339.91 L519.42,339.35 L519.62,338.80 L519.82,338.28 L520.01,337.77 L520.20,337.30 M523.00,331.30 L523.19,330.92 L523.38,330.55 L523.57,330.18 L523.77,329.80 L523.96,329.43 L524.16,329.06 L524.36,328.69 L524.56,328.31 L524.77,327.94 L524.97,327.56 L525.19,327.18 L525.40,326.79 L525.62,326.40 L525.84,326.01 L526.07,325.61 L526.30,325.20 M530.50,318.20 L530.79,317.92 L531.09,317.67 L531.40,317.44 L531.71,317.23 L532.03,317.04 L532.35,316.87 L532.68,316.72 L533.00,316.58 L533.32,316.46 L533.64,316.36 L533.96,316.27 L534.26,316.19 L534.56,316.13 L534.85,316.07 L535.13,316.03 L535.40,316.00 L535.65,315.98 L535.89,315.96 L536.11,315.96 L536.32,315.98 L536.53,316.00 L536.72,316.04 L536.92,316.09 L537.11,316.16 L537.30,316.24 L537.49,316.34 L537.68,316.45 L537.89,316.58 L538.10,316.73 L538.32,316.90 L538.55,317.09 L538.80,317.30 M543.60,323.00 L543.86,323.42 L544.12,323.86 L544.37,324.31 L544.62,324.78 L544.86,325.25 L545.09,325.73 L545.33,326.22 L545.56,326.71 L545.78,327.20 L546.00,327.70 L546.22,328.18 L546.44,328.67 L546.66,329.14 L546.87,329.61 L547.09,330.06 L547.30,330.50 M550.40,336.80 L550.61,337.24 L550.83,337.69 L551.06,338.14 L551.29,338.61 L551.52,339.08 L551.76,339.56 L552.00,340.04 L552.23,340.52 L552.46,341.01 L552.69,341.49 L552.92,341.98 L553.14,342.45 L553.34,342.93 L553.54,343.39 L553.73,343.85 L553.90,344.30 M555.70,351.00 L555.86,351.45 L556.03,351.92 L556.21,352.39 L556.40,352.87 L556.60,353.36 L556.80,353.85 L557.01,354.35 L557.22,354.84 L557.43,355.34 L557.63,355.83 L557.83,356.31 L558.03,356.79 L558.21,357.26 L558.39,357.72 L558.55,358.17 L558.70,358.60 M560.20,364.60 L560.34,365.03 L560.49,365.48 L560.66,365.95 L560.83,366.43 L561.01,366.91 L561.20,367.40 L561.39,367.90 L561.58,368.40 L561.77,368.90 L561.96,369.40 L562.14,369.89 L562.32,370.38 L562.48,370.85 L562.64,371.32 L562.78,371.77 L562.90,372.20 M563.90,378.20 L564.04,378.66 L564.20,379.14 L564.37,379.65 L564.56,380.17 L564.77,380.70 L564.98,381.25 L565.20,381.80 L565.42,382.36 L565.64,382.91 L565.86,383.46 L566.08,384.01 L566.29,384.54 L566.49,385.06 L566.67,385.56 L566.85,386.04 L567.00,386.50 M568.50,392.40 L568.65,392.82 L568.81,393.26 L568.98,393.70 L569.16,394.15 L569.35,394.61 L569.55,395.08 L569.75,395.55 L569.95,396.02 L570.16,396.50 L570.36,396.98 L570.56,397.46 L570.76,397.94 L570.96,398.41 L571.15,398.88 L571.33,399.34 L571.50,399.80 M573.80,406.90 L574.00,407.38 L574.21,407.87 L574.43,408.37 L574.66,408.88 L574.91,409.39 L575.16,409.91 L575.41,410.44 L575.66,410.96 L575.92,411.47 L576.17,411.99 L576.41,412.49 L576.65,412.98 L576.89,413.46 L577.10,413.93 L577.31,414.37 L577.50,414.80 M579.60,420.20 L579.80,420.63 L580.01,421.08 L580.23,421.55 L580.47,422.04 L580.71,422.54 L580.97,423.05 L581.22,423.57 L581.49,424.10 L581.75,424.63 L582.02,425.15 L582.28,425.67 L582.54,426.19 L582.79,426.69 L583.04,427.18 L583.27,427.65 L583.50,428.10 M586.60,434.30 L586.88,434.71 L587.17,435.14 L587.47,435.58 L587.79,436.02 L588.11,436.47 L588.45,436.92 L588.80,437.37 L589.15,437.83 L589.51,438.27 L589.87,438.71 L590.24,439.15 L590.61,439.57 L590.98,439.98 L591.36,440.37 L591.73,440.75 L592.10,441.10 M598.40,445.30 L598.85,445.51 L599.31,445.73 L599.79,445.94 L600.28,446.14 L600.78,446.35 L601.28,446.54 L601.79,446.73 L602.30,446.91 L602.81,447.09 L603.32,447.25 L603.82,447.41 L604.32,447.55 L604.81,447.68 L605.29,447.80 L605.75,447.91 L606.20,448.00 M612.50,448.00 L612.95,447.94 L613.41,447.87 L613.89,447.78 L614.38,447.69 L614.88,447.58 L615.38,447.47 L615.89,447.36 L616.40,447.24 L616.91,447.12 L617.42,447.00 L617.92,446.88 L618.42,446.77 L618.91,446.66 L619.39,446.56 L619.85,446.48 L620.30,446.40 M626.60,445.80 L627.07,445.78 L627.56,445.77 L628.07,445.76 L628.59,445.76 L629.13,445.76 L629.68,445.76 L630.23,445.76 L630.78,445.76 L631.33,445.77 L631.88,445.77 L632.42,445.78 L632.95,445.79 L633.47,445.79 L633.97,445.80 L634.45,445.80 L634.90,445.80 M640.70,445.80 L641.17,445.80 L641.66,445.80 L642.18,445.80 L642.73,445.80 L643.28,445.80 L643.86,445.80 L644.44,445.80 L645.02,445.80 L645.60,445.80 L646.18,445.80 L646.75,445.80 L647.30,445.80 L647.84,445.80 L648.35,445.80 L648.84,445.80 L649.30,445.80 M654.80,445.80 L655.12,445.80 L655.44,445.80 L655.77,445.80 L656.10,445.80 L656.43,445.80 L656.76,445.80 L657.08,445.80 L657.39,445.80 L657.70,445.80 L657.99,445.80 L658.26,445.80 L658.51,445.80 L658.75,445.80 L658.96,445.80 L659.14,445.80 L659.30,445.80" fill="none" stroke="#0000ff" stroke-width="2.0" stroke-linejoin="round" clip-path="url(#clipd)"/>
<path d="M420.30,448.20 C420.88,447.50 422.52,445.17 423.80,444.00 C425.08,442.83 426.48,441.80 428.00,441.20 C429.52,440.60 431.28,440.40 432.90,440.40 C434.52,440.40 436.20,440.95 437.70,441.20 C439.20,441.45 440.60,442.03 441.90,441.90 C443.20,441.77 444.30,441.37 445.50,440.40 C446.70,439.43 448.00,437.72 449.10,436.10 C450.20,434.48 451.08,433.00 452.10,430.70 C453.12,428.40 454.28,425.42 455.20,422.30 C456.12,419.18 456.88,415.80 457.60,412.00 C458.32,408.20 458.72,404.07 459.50,399.50 C460.28,394.93 461.33,389.50 462.30,384.60 C463.27,379.70 464.30,374.92 465.30,370.10 C466.30,365.28 467.32,360.63 468.30,355.70 C469.28,350.77 470.32,345.08 471.20,340.50 C472.08,335.92 472.58,332.50 473.60,328.20 C474.62,323.90 475.93,319.08 477.30,314.70 C478.67,310.32 480.28,305.55 481.80,301.90 C483.32,298.25 484.77,295.32 486.40,292.80 C488.03,290.28 489.72,288.72 491.60,286.80 C493.48,284.88 495.93,282.70 497.70,281.30 C499.47,279.90 500.77,279.10 502.20,278.40 C503.63,277.70 505.12,277.10 506.30,277.10 C507.48,277.10 508.30,277.72 509.30,278.40 C510.30,279.08 511.23,279.67 512.30,281.20 C513.37,282.73 514.38,284.40 515.70,287.60 C517.02,290.80 518.68,295.63 520.20,300.40 C521.72,305.17 523.53,311.43 524.80,316.20 C526.07,320.97 526.93,324.72 527.80,329.00 C528.67,333.28 529.13,337.22 530.00,341.90 C530.87,346.58 531.73,351.55 533.00,357.10 C534.27,362.65 536.08,369.93 537.60,375.20 C539.12,380.47 540.72,385.18 542.10,388.70 C543.48,392.22 544.65,394.48 545.90,396.30 C547.15,398.12 548.35,398.90 549.60,399.60 C550.85,400.30 552.02,400.55 553.40,400.50 C554.78,400.45 556.40,399.85 557.90,399.30 C559.40,398.75 561.05,397.67 562.40,397.20 C563.75,396.73 564.87,396.45 566.00,396.50 C567.13,396.55 568.03,396.78 569.20,397.50 C570.37,398.22 571.87,399.58 573.00,400.80 C574.13,402.02 574.77,402.73 576.00,404.80 C577.23,406.87 578.77,409.97 580.40,413.20 C582.03,416.43 583.98,421.07 585.80,424.20 C587.62,427.33 589.47,430.23 591.30,432.00 C593.13,433.77 595.10,434.67 596.80,434.80 C598.50,434.93 599.80,434.05 601.50,432.80 C603.20,431.55 605.03,429.13 607.00,427.30 C608.97,425.47 611.35,422.98 613.30,421.80 C615.25,420.62 616.88,420.12 618.70,420.20 C620.52,420.28 622.23,421.12 624.20,422.30 C626.17,423.48 628.15,425.30 630.50,427.30 C632.85,429.30 635.70,432.27 638.30,434.30 C640.90,436.33 643.48,438.00 646.10,439.50 C648.72,441.00 651.80,442.18 654.00,443.30 C656.20,444.42 658.42,445.72 659.30,446.20" fill="none" stroke="#ff0000" stroke-width="1.9" stroke-linejoin="round" clip-path="url(#clipd)"/>
<line x1="420.60" y1="260.32" x2="420.60" y2="453.28" stroke="#000" stroke-width="1.3" />
<line x1="659.20" y1="260.32" x2="659.20" y2="453.28" stroke="#000" stroke-width="1.65" />
<line x1="419.95" y1="261.00" x2="660.03" y2="261.00" stroke="#000" stroke-width="1.35" />
<line x1="419.95" y1="452.55" x2="660.03" y2="452.55" stroke="#000" stroke-width="1.45" />
<line x1="414.30" y1="452.55" x2="420.60" y2="452.55" stroke="#000" stroke-width="1.3" />
<text x="411.50" y="456.65" font-size="14" text-anchor="end" fill="#000" >0.0</text>
<line x1="417.00" y1="435.12" x2="420.60" y2="435.12" stroke="#000" stroke-width="1.3" />
<line x1="417.00" y1="417.69" x2="420.60" y2="417.69" stroke="#000" stroke-width="1.3" />
<line x1="417.00" y1="400.26" x2="420.60" y2="400.26" stroke="#000" stroke-width="1.3" />
<line x1="417.00" y1="382.83" x2="420.60" y2="382.83" stroke="#000" stroke-width="1.3" />
<line x1="414.30" y1="365.40" x2="420.60" y2="365.40" stroke="#000" stroke-width="1.3" />
<text x="411.50" y="369.50" font-size="14" text-anchor="end" fill="#000" >0.5</text>
<line x1="417.00" y1="347.97" x2="420.60" y2="347.97" stroke="#000" stroke-width="1.3" />
<line x1="417.00" y1="330.54" x2="420.60" y2="330.54" stroke="#000" stroke-width="1.3" />
<line x1="417.00" y1="313.11" x2="420.60" y2="313.11" stroke="#000" stroke-width="1.3" />
<line x1="417.00" y1="295.68" x2="420.60" y2="295.68" stroke="#000" stroke-width="1.3" />
<line x1="414.30" y1="278.25" x2="420.60" y2="278.25" stroke="#000" stroke-width="1.3" />
<text x="411.50" y="282.35" font-size="14" text-anchor="end" fill="#000" >1.0</text>
<line x1="417.00" y1="260.82" x2="420.60" y2="260.82" stroke="#000" stroke-width="1.3" />
<line x1="420.50" y1="452.55" x2="420.50" y2="458.85" stroke="#000" stroke-width="1.3" />
<text x="420.90" y="475.00" font-size="14" text-anchor="middle" fill="#000" >2</text>
<line x1="464.70" y1="452.55" x2="464.70" y2="456.15" stroke="#000" stroke-width="1.3" />
<line x1="508.90" y1="452.55" x2="508.90" y2="458.85" stroke="#000" stroke-width="1.3" />
<text x="509.30" y="475.00" font-size="14" text-anchor="middle" fill="#000" >3</text>
<line x1="553.10" y1="452.55" x2="553.10" y2="456.15" stroke="#000" stroke-width="1.3" />
<line x1="597.30" y1="452.55" x2="597.30" y2="458.85" stroke="#000" stroke-width="1.3" />
<text x="597.70" y="475.00" font-size="14" text-anchor="middle" fill="#000" >4</text>
<line x1="641.50" y1="452.55" x2="641.50" y2="456.15" stroke="#000" stroke-width="1.3" />
<text x="429.00" y="282.20" font-size="18.5" text-anchor="start" fill="#000" textLength="21.60" lengthAdjust="spacingAndGlyphs" >(d)</text>
<text transform="translate(381.3 412.9) rotate(-90)" font-size="14" fill="#000" textLength="104.2" lengthAdjust="spacingAndGlyphs">dI(z)/dz (arb. u.)</text>
<text x="519.20" y="490.50" font-size="14" text-anchor="start" fill="#000" >z (mm)</text>
<line x1="552.50" y1="275.60" x2="582.00" y2="275.60" stroke="#ff0000" stroke-width="1.6" />
<line x1="552.50" y1="293.10" x2="561.20" y2="293.10" stroke="#0000ff" stroke-width="2.0" />
<line x1="566.60" y1="293.10" x2="575.30" y2="293.10" stroke="#0000ff" stroke-width="2.0" />
<line x1="552.50" y1="310.40" x2="556.10" y2="310.40" stroke="#008000" stroke-width="2.0" />
<line x1="560.27" y1="310.40" x2="563.90" y2="310.40" stroke="#008000" stroke-width="2.0" />
<line x1="568.00" y1="310.40" x2="571.60" y2="310.40" stroke="#008000" stroke-width="2.0" />
<line x1="575.60" y1="310.40" x2="579.20" y2="310.40" stroke="#008000" stroke-width="2.0" />
<line x1="581.10" y1="310.40" x2="582.40" y2="310.40" stroke="#008000" stroke-width="2.0" />
<text x="584.30" y="280.2" font-size="13" fill="#000" textLength="67.00" lengthAdjust="spacingAndGlyphs">2.5<tspan font-size="12.5" dy="0.5">×</tspan><tspan dy="-0.5">10</tspan><tspan font-size="8.5" dy="-6.8">19</tspan><tspan dy="6.8">cm</tspan><tspan font-size="8.5" dy="-6.8">-3</tspan></text>
<text x="584.80" y="297.7" font-size="13" fill="#000" textLength="66.50" lengthAdjust="spacingAndGlyphs">2.0<tspan font-size="12.5" dy="0.5">×</tspan><tspan dy="-0.5">10</tspan><tspan font-size="8.5" dy="-6.8">19</tspan><tspan dy="6.8">cm</tspan><tspan font-size="8.5" dy="-6.8">-3</tspan></text>
<text x="585.20" y="314.8" font-size="13" fill="#000" textLength="66.10" lengthAdjust="spacingAndGlyphs">1.5<tspan font-size="12.5" dy="0.5">×</tspan><tspan dy="-0.5">10</tspan><tspan font-size="8.5" dy="-6.8">19</tspan><tspan dy="6.8">cm</tspan><tspan font-size="8.5" dy="-6.8">-3</tspan></text>
</svg>
</body></html>
